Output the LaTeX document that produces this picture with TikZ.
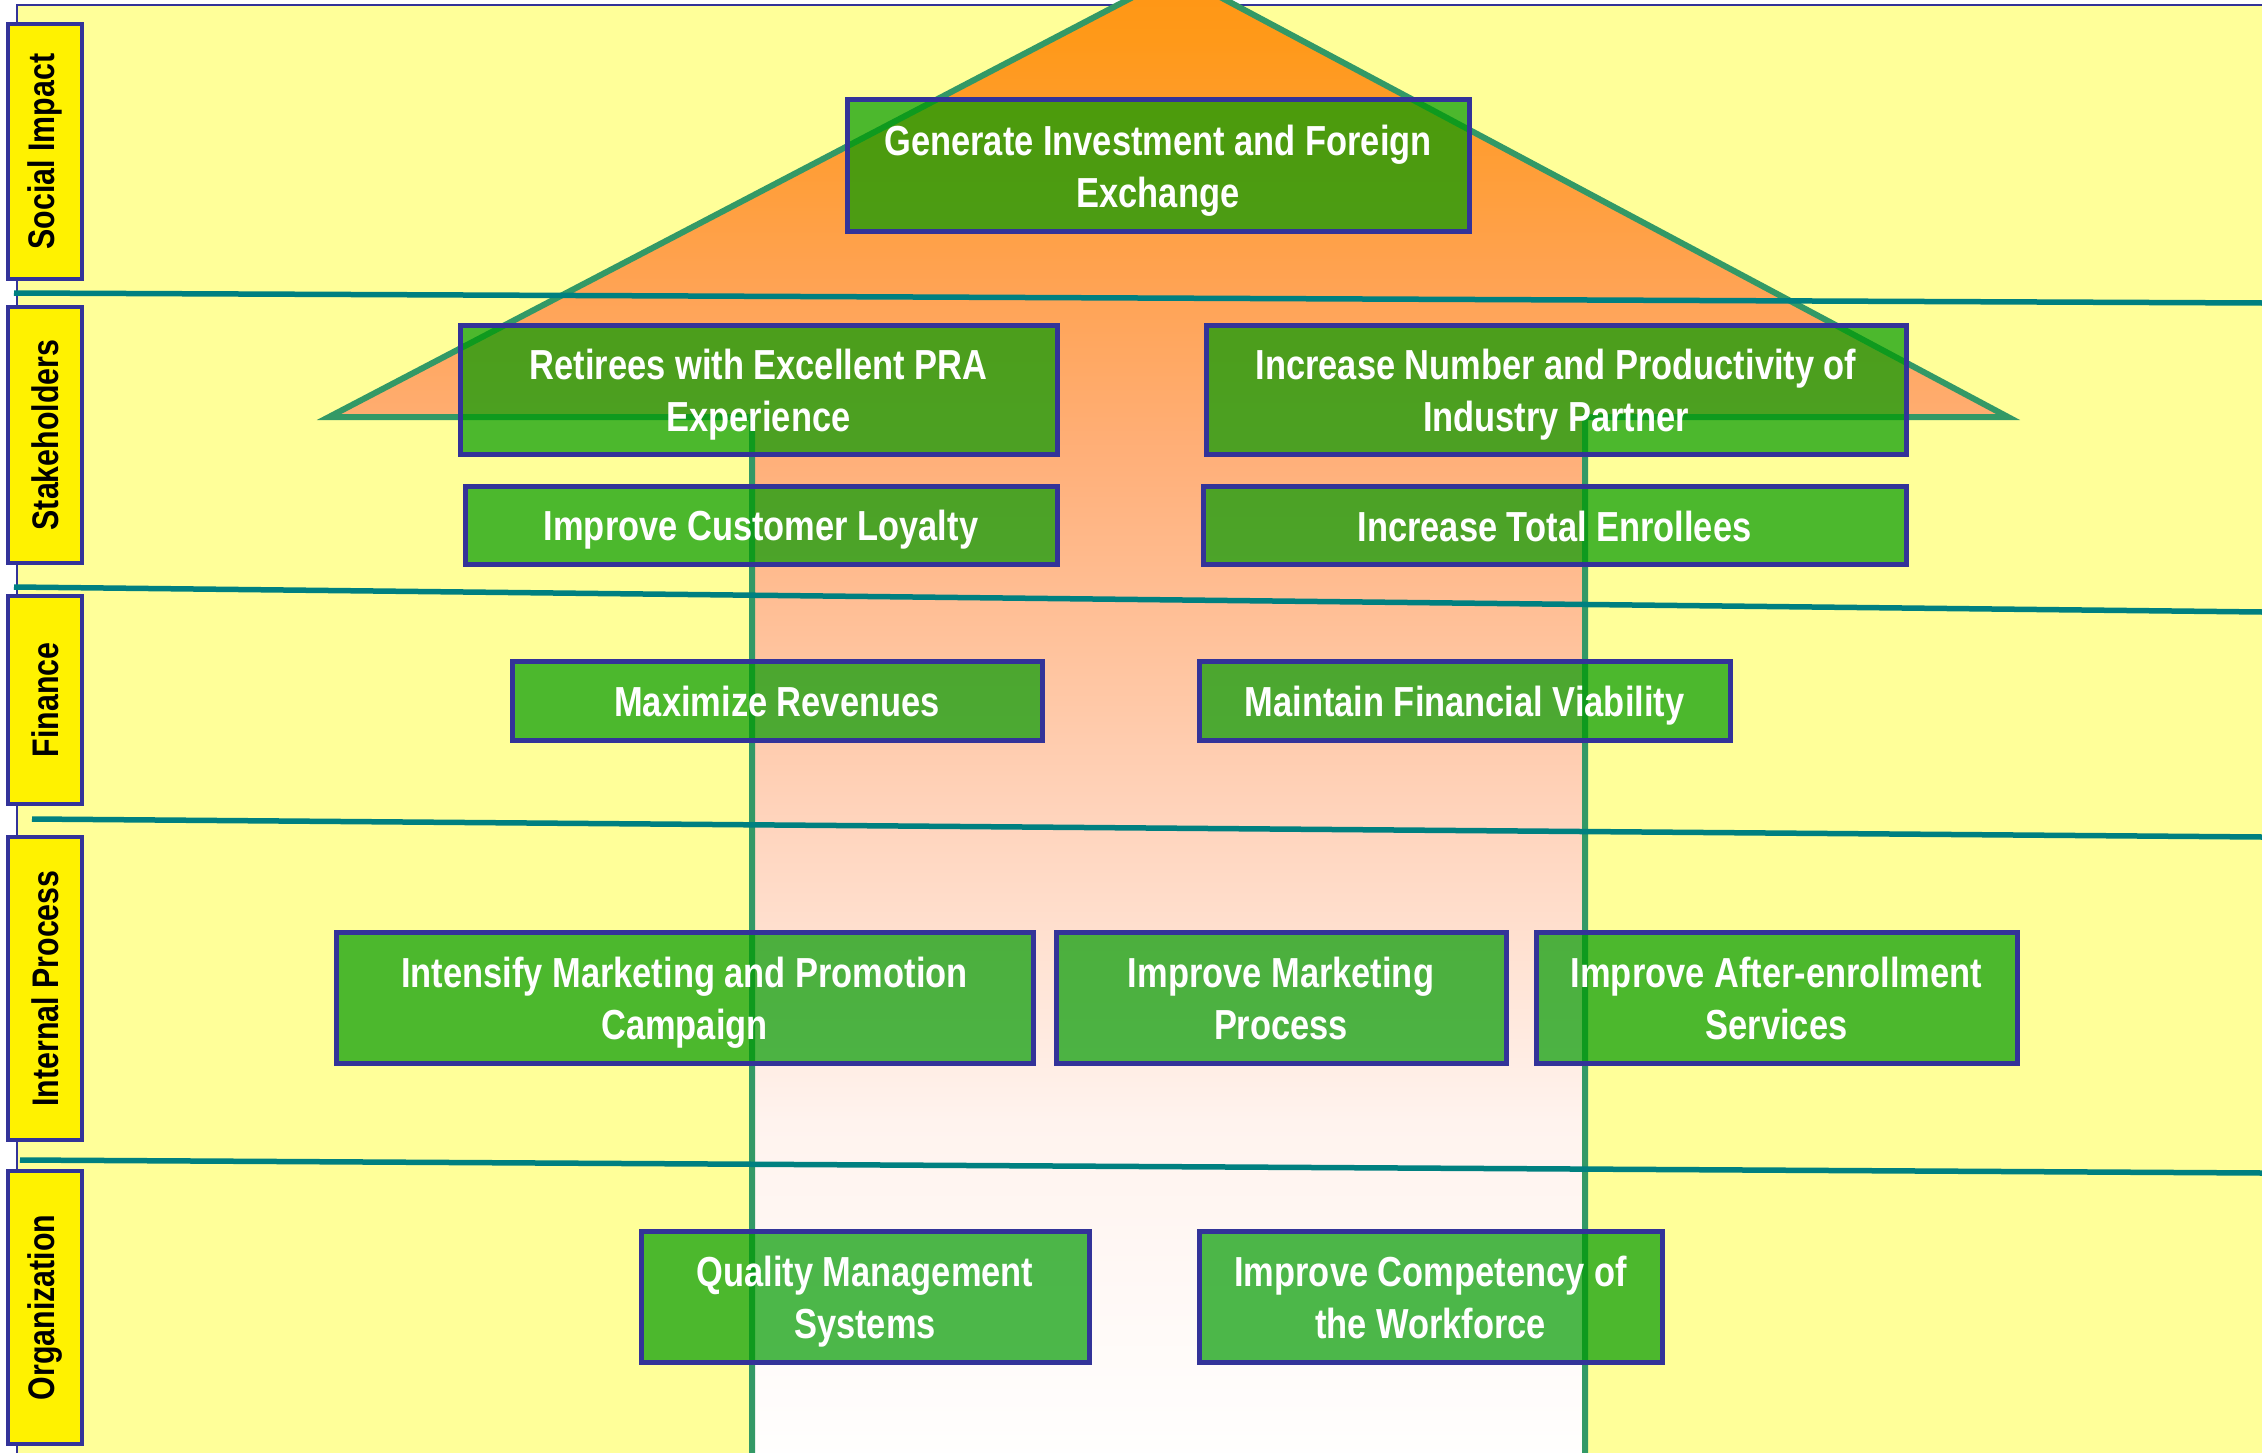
\documentclass[tikz,border=0pt]{standalone}
\usepackage{fontspec}
\setmainfont{Liberation Sans}
\newfontfamily\nb{Liberation Sans}[FakeStretch=0.82]
\definecolor{bgy}{HTML}{FFFF99}
\definecolor{navy}{HTML}{333399}
\definecolor{sepc}{HTML}{008080}
\definecolor{arrowg}{HTML}{339966}
\definecolor{boxg}{RGB}{0,155,0}
\definecolor{ca}{RGB}{255,150,20}
\definecolor{cb}{RGB}{255,153,25}
\definecolor{cc}{RGB}{255,162,80}
\definecolor{cd}{RGB}{255,175,120}
\definecolor{ce}{RGB}{255,210,185}
\definecolor{cf}{RGB}{255,243,238}
\definecolor{cg}{RGB}{255,253,252}
\pgfdeclareverticalshading{arrowshade}{100bp}{color(0bp)=(white); color(25bp)=(white); color(26.8bp)=(cg); color(36.8bp)=(cf); color(47.5bp)=(ce); color(59.1bp)=(cd); color(65.1bp)=(cc); color(72.8bp)=(cb); color(75bp)=(ca); color(100bp)=(ca)}
\newcommand\gstrut{\rule[-8pt]{0pt}{48pt}}
\tikzset{
  goal/.style={draw=navy, line width=5pt, fill=boxg, fill opacity=0.7, draw opacity=1, text opacity=1,
    text=white, font=\nb\bfseries\fontsize{42}{52}\selectfont, align=center, inner sep=0pt},
  lab/.style={draw=navy, line width=4.5pt, fill=yellow, text=black, rotate=90,
    font=\nb\bfseries\fontsize{37}{44}\selectfont, inner sep=0pt, minimum height=74pt},
  sepline/.style={draw=sepc, line width=5.5pt},
  arrowline/.style={draw=arrowg, line width=6pt, line join=miter}
}
\begin{document}
\begin{tikzpicture}[x=1pt,y=-1pt]
\useasboundingbox (0,0) rectangle (2262,1453);
\clip (0,0) rectangle (2262,1453);
\fill[white] (0,0) rectangle (2262,1453);
\draw[navy, line width=2pt, fill=bgy] (16.5,5) rectangle (2290,1480);

% big arrow
\path[shade, shading=arrowshade, arrowline]
  (752,1475) -- (752,417) -- (329,417) -- (1177,-26) -- (2008,417) -- (1585,417) -- (1585,1475);

% separators
\draw[sepline] (14,293) -- (2262,303);
\draw[sepline] (14,587) -- (2262,612);
\draw[sepline] (32,819) -- (2262,837);
\draw[sepline] (20,1160) -- (2262,1173);

% goals
\node[goal, minimum width=622pt, minimum height=131pt] (gen) at (1158,165.5) {\gstrut Generate Investment and Foreign\\\gstrut Exchange};
\node[goal, minimum width=597pt, minimum height=129pt] (ret) at (758.5,389.5) {\gstrut Retirees with Excellent PRA\\\gstrut Experience};
\node[goal, minimum width=700pt, minimum height=129pt] (inc) at (1556,389.5) {\gstrut Increase Number and Productivity of\\\gstrut Industry Partner};
\node[goal, minimum width=592pt, minimum height=78pt] (loy) at (761,525) {\gstrut Improve Customer Loyalty};
\node[goal, minimum width=703pt, minimum height=78pt] (enr) at (1554.5,525) {\gstrut Increase Total Enrollees};
\node[goal, minimum width=530pt, minimum height=79pt] (rev) at (777,700.5) {\gstrut Maximize Revenues};
\node[goal, minimum width=531pt, minimum height=79pt] (via) at (1464.5,700.5) {\gstrut Maintain Financial Viability};
\node[goal, minimum width=697pt, minimum height=131pt] (int) at (684.5,997.5) {\gstrut Intensify Marketing and Promotion\\\gstrut Campaign};
\node[goal, minimum width=450pt, minimum height=131pt] (imp) at (1281,997.5) {\gstrut Improve Marketing\\\gstrut Process};
\node[goal, minimum width=481pt, minimum height=131pt] (aft) at (1776.5,997.5) {\gstrut Improve After-enrollment\\\gstrut Services};
\node[goal, minimum width=448pt, minimum height=131pt] (qms) at (865,1296.5) {\gstrut Quality Management\\\gstrut Systems};
\node[goal, minimum width=463pt, minimum height=131pt] (cmp) at (1430.5,1296.5) {\gstrut Improve Competency of\\\gstrut the Workforce};

% perspective labels
\node[lab, minimum width=255pt] (lsi) at (45,151.5) {Social Impact};
\node[lab, minimum width=256pt] (lst) at (45,435) {Stakeholders};
\node[lab, minimum width=208pt] (lfi) at (45,700) {Finance};
\node[lab, minimum width=303pt] (lip) at (45,988.5) {Internal Process};
\node[lab, minimum width=273pt] (lor) at (45,1307.5) {Organization};
\end{tikzpicture}
\end{document}
